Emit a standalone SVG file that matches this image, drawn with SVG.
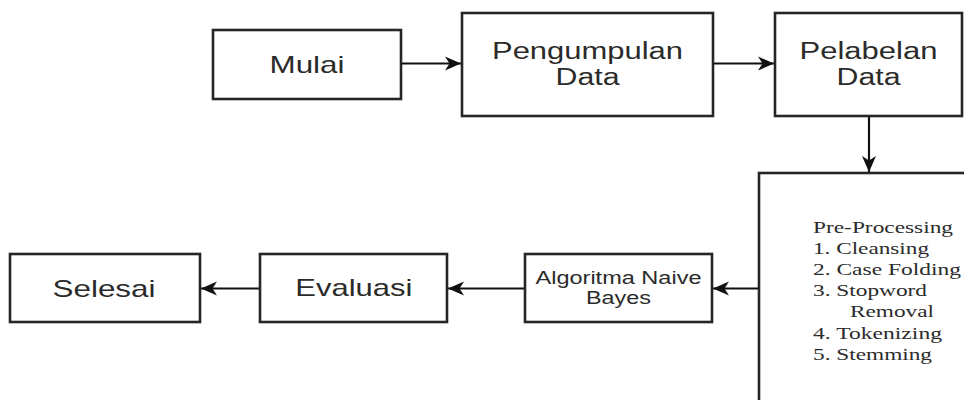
<svg xmlns="http://www.w3.org/2000/svg" width="964" height="400" viewBox="0 0 964 400">
<style>
  .box { fill: #ffffff; stroke: #262626; stroke-width: 2.6; }
  .lbl { font-family: "Liberation Sans", Arial, sans-serif; fill: #2b2b2b; text-anchor: middle; }
  .pp { font-family: "Liberation Serif", "Times New Roman", serif; font-size: 16.5px; fill: #2b2b2b; }
  .conn { stroke: #111111; stroke-width: 2.2; fill: none; marker-end: url(#arr); }
</style>
<defs>
  <marker id="arr" markerUnits="userSpaceOnUse" markerWidth="18" markerHeight="16" refX="16" refY="8" orient="auto">
    <path d="M0,1 L16,8 L0,15 L4.5,8 Z" fill="#111111"/>
  </marker>
</defs>
<rect width="964" height="400" fill="#ffffff"/>

<g id="connectors">
  <line class="conn" x1="401" y1="63.5" x2="461" y2="63.5"/>
  <line class="conn" x1="713" y1="63.5" x2="774" y2="63.5"/>
  <line class="conn" x1="869" y1="116" x2="869" y2="172"/>
  <line class="conn" x1="759" y1="288.5" x2="713" y2="288.5"/>
  <line class="conn" x1="525" y1="288.5" x2="448" y2="288.5"/>
  <line class="conn" x1="260" y1="288.5" x2="201" y2="288.5"/>
</g>

<g id="mulai">
  <rect class="box" x="213" y="30" width="188" height="69"/>
  <text class="lbl" x="307" y="73.3" font-size="24" textLength="75" lengthAdjust="spacingAndGlyphs">Mulai</text>
</g>

<g id="pengumpulan">
  <rect class="box" x="462" y="13" width="251" height="103"/>
  <text class="lbl" x="587.5" y="59.3" font-size="23" textLength="191" lengthAdjust="spacingAndGlyphs">Pengumpulan</text>
  <text class="lbl" x="587.5" y="85" font-size="23" textLength="64" lengthAdjust="spacingAndGlyphs">Data</text>
</g>

<g id="pelabelan">
  <rect class="box" x="775" y="13" width="187" height="103"/>
  <text class="lbl" x="868.5" y="59.3" font-size="23" textLength="138" lengthAdjust="spacingAndGlyphs">Pelabelan</text>
  <text class="lbl" x="868.5" y="85" font-size="23" textLength="64" lengthAdjust="spacingAndGlyphs">Data</text>
</g>

<g id="preprocessing">
  <rect class="box" x="759" y="173" width="300" height="300"/>
  <text class="pp" x="813" y="232.5" textLength="140" lengthAdjust="spacingAndGlyphs">Pre-Processing</text>
  <text class="pp" x="813" y="253.7" textLength="116" lengthAdjust="spacingAndGlyphs">1. Cleansing</text>
  <text class="pp" x="813" y="274.9" textLength="148" lengthAdjust="spacingAndGlyphs">2. Case Folding</text>
  <text class="pp" x="813" y="296.1" textLength="114" lengthAdjust="spacingAndGlyphs">3. Stopword</text>
  <text class="pp" x="850" y="317.3" textLength="84" lengthAdjust="spacingAndGlyphs">Removal</text>
  <text class="pp" x="813" y="338.5" textLength="129" lengthAdjust="spacingAndGlyphs">4. Tokenizing</text>
  <text class="pp" x="813" y="359.7" textLength="119" lengthAdjust="spacingAndGlyphs">5. Stemming</text>
</g>

<g id="algoritma">
  <rect class="box" x="525" y="254" width="187" height="68"/>
  <text class="lbl" x="618.5" y="284.3" font-size="17.5" textLength="166" lengthAdjust="spacingAndGlyphs">Algoritma Naive</text>
  <text class="lbl" x="618.5" y="304.3" font-size="17.5" textLength="65" lengthAdjust="spacingAndGlyphs">Bayes</text>
</g>

<g id="evaluasi">
  <rect class="box" x="260" y="254" width="187" height="68"/>
  <text class="lbl" x="353.8" y="296.3" font-size="24" textLength="117" lengthAdjust="spacingAndGlyphs">Evaluasi</text>
</g>

<g id="selesai">
  <rect class="box" x="10" y="254" width="190" height="68"/>
  <text class="lbl" x="104" y="296.5" font-size="24" textLength="103" lengthAdjust="spacingAndGlyphs">Selesai</text>
</g>
</svg>
